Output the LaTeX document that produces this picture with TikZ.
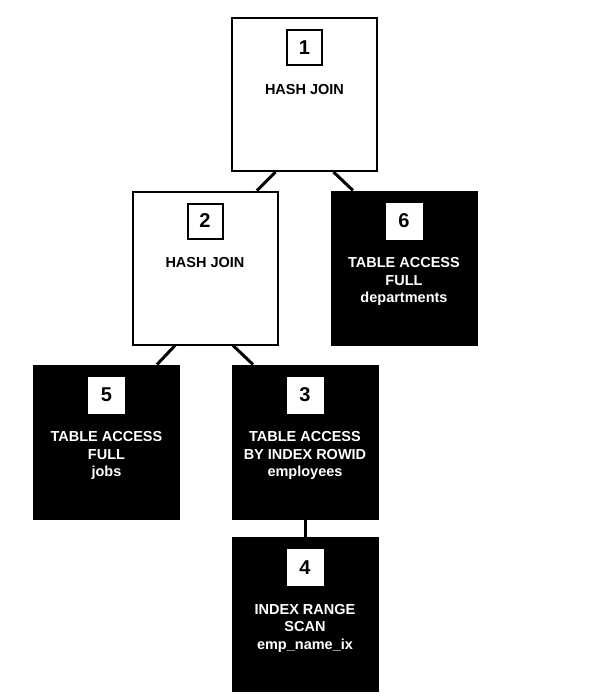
\documentclass[tikz,border=0pt]{standalone}
\usepackage{fontspec}
\setmainfont{Liberation Sans}
\usetikzlibrary{positioning}
\tikzset{
  opbox/.style={draw=black, line width=2pt, minimum width=145pt, minimum height=153pt, inner sep=0pt},
  rowbox/.style={opbox, fill=black},
  numbox/.style={draw=black, fill=white, line width=2pt, minimum size=35pt, inner sep=0pt, font=\fontsize{20}{22}\selectfont\bfseries},
  numboxw/.style={numbox, draw=white},
  optext/.style={align=center, inner sep=0pt, anchor=north, font=\fontsize{14.5}{17.5}\selectfont\bfseries},
  rowtext/.style={optext, text=white},
  link/.style={line width=3pt}
}
\begin{document}
\begin{tikzpicture}[x=1pt,y=1pt,yscale=-1]
\useasboundingbox (0,0) rectangle (609,699);

%Shape: operation boxes
\node[opbox]  (n1) at (304.5,94.5) {};
\node[opbox]  (n2) at (205,268) {};
\node[rowbox] (n6) at (404,268) {};
\node[rowbox] (n5) at (106.5,442) {};
\node[rowbox] (n3) at (305,442) {};
\node[rowbox] (n4) at (305,614.5) {};

%Shape: step numbers
\node[numbox,  below=12pt of n1.north] (n1num) {1};
\node[numbox,  below=12pt of n2.north] (n2num) {2};
\node[numboxw, below=12pt of n6.north] (n6num) {6};
\node[numboxw, below=12pt of n5.north] (n5num) {5};
\node[numboxw, below=12pt of n3.north] (n3num) {3};
\node[numboxw, below=12pt of n4.north] (n4num) {4};

% Text Node
\node[optext,  below=18pt of n1num] (n1txt) {HASH JOIN};
% Text Node
\node[optext,  below=18pt of n2num] (n2txt) {HASH JOIN};
% Text Node
\node[rowtext, below=18pt of n6num] (n6txt) {TABLE ACCESS\\FULL\\departments};
% Text Node
\node[rowtext, below=18pt of n5num] (n5txt) {TABLE ACCESS\\FULL\\jobs};
% Text Node
\node[rowtext, below=18pt of n3num] (n3txt) {TABLE ACCESS\\BY INDEX ROWID\\employees};
% Text Node
\node[rowtext, below=18pt of n4num] (n4txt) {INDEX RANGE\\SCAN\\emp\_name\_ix};

%Straight Lines
\draw[link] ([xshift=-29pt]n1.south) -- ([xshift=52pt]n2.north);
\draw[link] ([xshift=29pt]n1.south) -- ([xshift=-51pt]n6.north);
\draw[link] ([xshift=-30pt]n2.south) -- ([xshift=50.5pt]n5.north);
\draw[link] ([xshift=28pt]n2.south) -- ([xshift=-52pt]n3.north);
\draw[link] (n3.south) -- (n4.north);

\end{tikzpicture}
\end{document}
